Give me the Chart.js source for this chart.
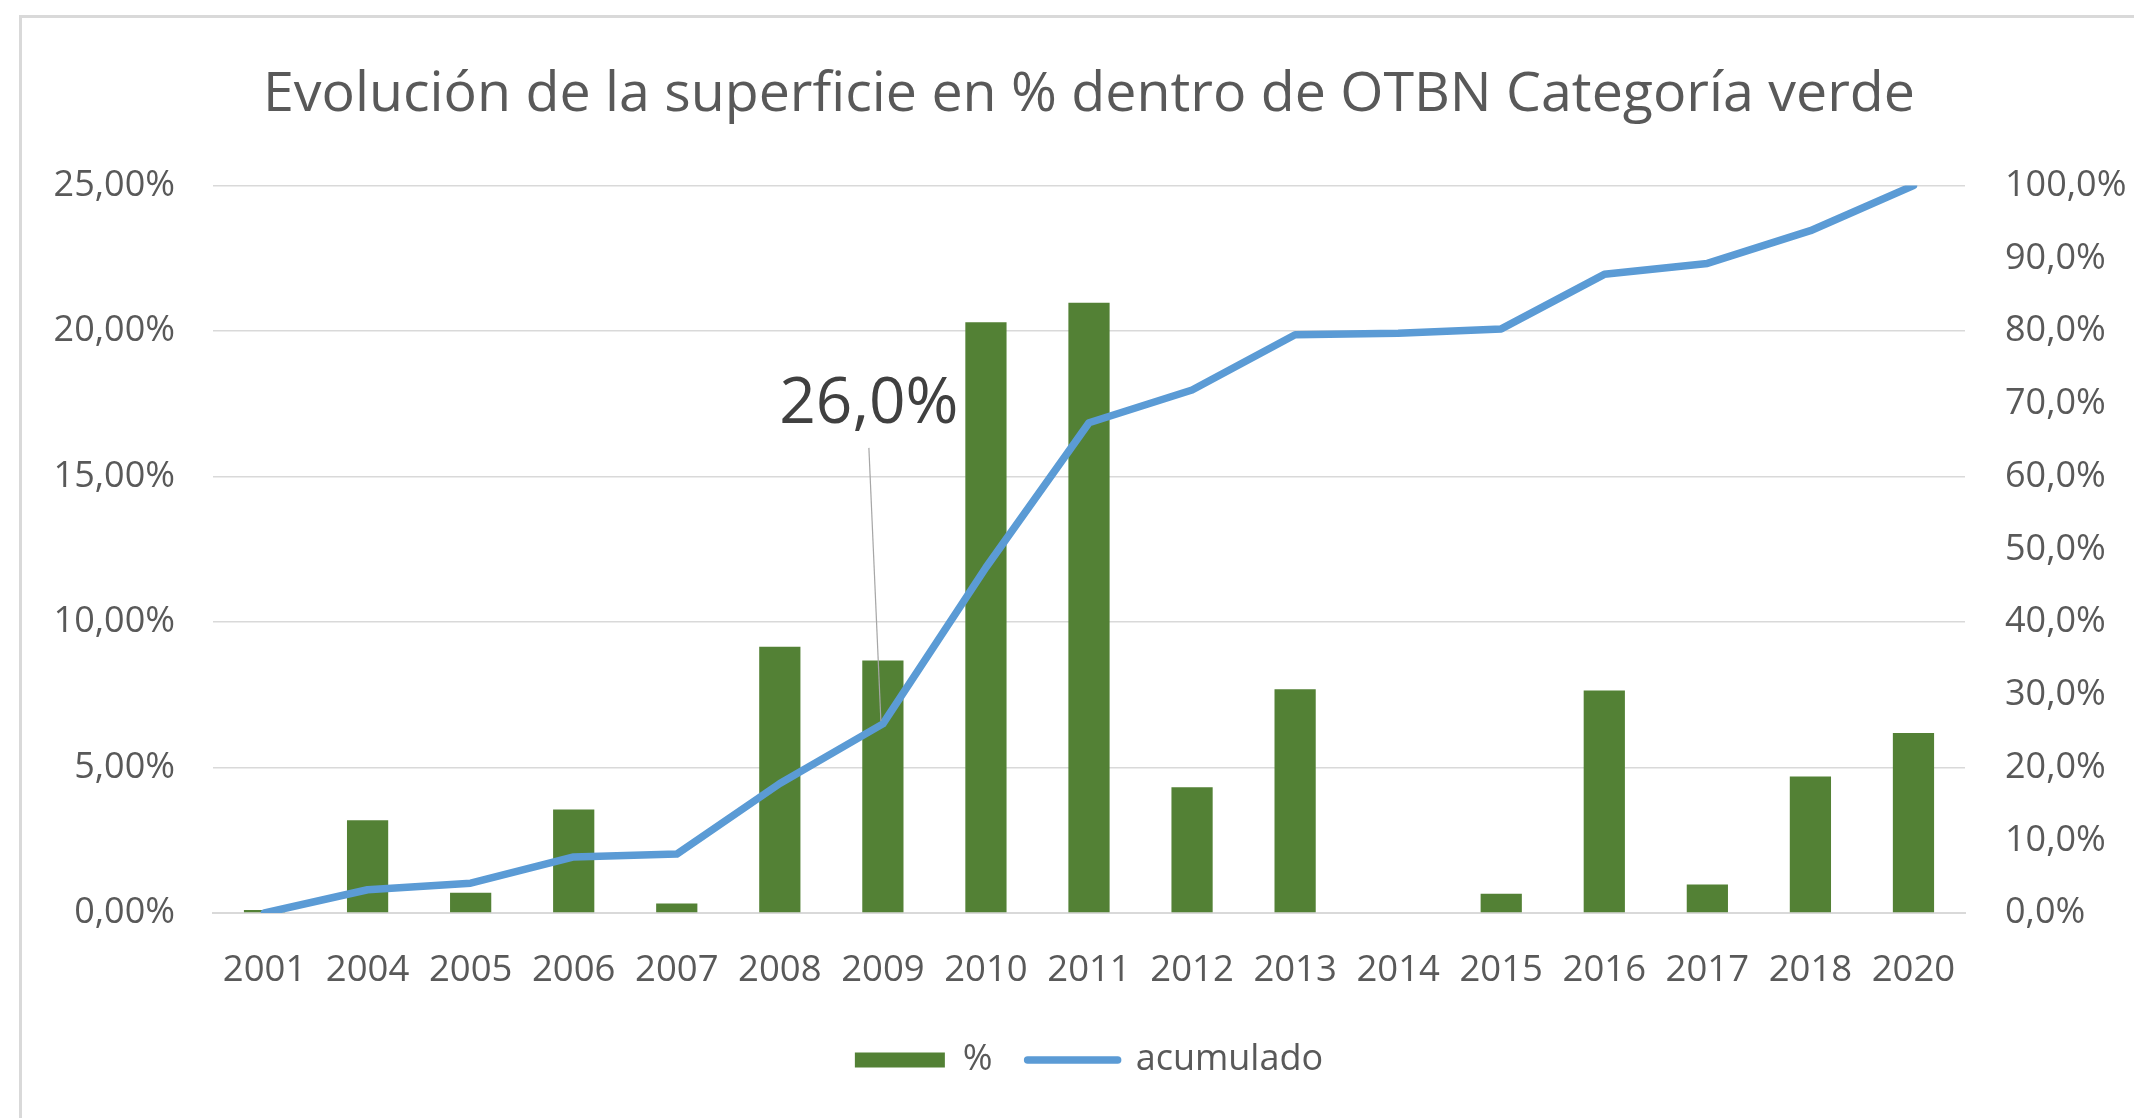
<!DOCTYPE html>
<html>
<head>
<meta charset="utf-8">
<script src="https://cdn.jsdelivr.net/npm/chart.js@4/dist/chart.umd.min.js"></script>
<style>
  html, body { margin: 0; padding: 0; background: #fff; }
  #frame {
    position: absolute; left: 19px; top: 15px; width: 2200px; height: 1200px;
    border-left: 3px solid #d9d9d9; border-top: 3px solid #d9d9d9;
  }
  #wrap { position: absolute; left: 0; top: 0; width: 2134px; height: 1118px; }
</style>
</head>
<body>
<div id="frame"></div>
<div id="wrap"><canvas id="otbnChart" width="2134" height="1118"></canvas></div>
<script>
const years = ['2001', '2004', '2005', '2006', '2007', '2008', '2009', '2010', '2011',
  '2012', '2013', '2014', '2015', '2016', '2017', '2018', '2020'];

// % de superficie por año (eje izquierdo)
const pctValues = [0.1, 3.19, 0.7, 3.56, 0.33, 9.15, 8.68, 20.3, 20.97,
  4.32, 7.69, 0, 0.66, 7.65, 0.98, 4.69, 6.19];

// acumulado (eje derecho)
const cumValues = [0, 3.2, 4.1, 7.7, 8.1, 17.8, 26.0, 47.5, 67.4,
  71.9, 79.5, 79.7, 80.3, 87.8, 89.3, 93.8, 100];

const labelIndex = 6; // etiqueta de datos sobre 2009

const FONT = "'Open Sans', 'Noto Sans', sans-serif";
const TEXT = '#595959';

const fmtComma = (v, d) => v.toFixed(d).replace('.', ',') + '%';

const annotationPlugin = {
  id: 'pointLabel',
  afterDatasetsDraw(chart) {
    const meta = chart.getDatasetMeta(1);
    const pt = meta.data[labelIndex];
    if (!pt) return;
    const ctx = chart.ctx;
    ctx.save();
    ctx.strokeStyle = '#a6a6a6';
    ctx.lineWidth = 1.2;
    ctx.beginPath();
    ctx.moveTo(pt.x - 14, pt.y - 276);
    ctx.lineTo(pt.x - 2, pt.y - 3);
    ctx.stroke();
    ctx.fillStyle = '#404040';
    ctx.font = `64px ${FONT}`;
    ctx.textAlign = 'center';
    ctx.textBaseline = 'alphabetic';
    ctx.fillText(fmtComma(cumValues[labelIndex], 1), pt.x - 14, pt.y - 301);
    ctx.restore();
  }
};

const ctx = document.getElementById('otbnChart').getContext('2d');
new Chart(ctx, {
  type: 'bar',
  data: {
    labels: years,
    datasets: [{
      type: 'bar',
      label: '%',
      data: pctValues,
      backgroundColor: '#538135',
      borderWidth: 0,
      barPercentage: 0.4,
      categoryPercentage: 1.0,
      yAxisID: 'y',
      order: 1
    }, {
      type: 'line',
      label: 'acumulado',
      data: cumValues,
      borderColor: '#5b9bd5',
      backgroundColor: '#5b9bd5',
      borderWidth: 7.5,
      borderCapStyle: 'round',
      borderJoinStyle: 'round',
      pointRadius: 0,
      pointStyle: 'line',
      tension: 0,
      yAxisID: 'y1',
      order: 0
    }]
  },
  options: {
    responsive: false,
    animation: false,
    layout: { padding: { top: 0, bottom: 30, left: 0, right: 0 } },
    plugins: {
      title: {
        display: true,
        text: 'Evolución de la superficie en % dentro de OTBN Categoría verde',
        color: TEXT,
        fullSize: false,
        font: { family: FONT, size: 55.5, weight: 'normal', lineHeight: 1.2 },
        padding: { top: 62, bottom: 57 }
      },
      legend: {
        position: 'bottom',
        fullSize: false,
        labels: {
          color: TEXT,
          font: { family: FONT, size: 36 },
          usePointStyle: true,
          pointStyleWidth: 90,
          boxHeight: 15,
          padding: 35,
          sort: (a, b) => a.datasetIndex - b.datasetIndex,
          generateLabels(chart) {
            return chart.data.datasets.map((ds, i) => ({
              text: ds.label,
              fillStyle: ds.backgroundColor,
              strokeStyle: ds.borderColor || ds.backgroundColor,
              lineWidth: ds.type === 'line' ? ds.borderWidth : 0,
              lineCap: 'round',
              pointStyle: ds.type === 'line' ? 'line' : 'rect',
              fontColor: TEXT,
              datasetIndex: i
            }));
          }
        }
      },
      tooltip: { enabled: false }
    },
    scales: {
      x: {
        grid: { display: false },
        border: { display: true, color: '#d9d9d9', width: 2 },
        ticks: {
          color: TEXT,
          font: { family: FONT, size: 36.5 },
          padding: 28,
          maxRotation: 0,
          autoSkip: false
        },
        afterFit(scale) { scale.height = 94; }
      },
      y: {
        position: 'left',
        min: 0,
        max: 25,
        grid: { color: '#d9d9d9', lineWidth: 1.5, drawTicks: false },
        border: { display: false },
        ticks: {
          stepSize: 5,
          color: TEXT,
          font: { family: FONT, size: 36 },
          padding: 38,
          callback: v => fmtComma(v, 2)
        },
        afterFit(scale) { scale.width = 213; }
      },
      y1: {
        position: 'right',
        min: 0,
        max: 100,
        grid: { display: false, drawTicks: false },
        border: { display: false },
        ticks: {
          stepSize: 10,
          color: TEXT,
          font: { family: FONT, size: 36 },
          padding: 40,
          callback: v => fmtComma(v, 1)
        },
        afterFit(scale) { scale.width = 169; }
      }
    }
  },
  plugins: [annotationPlugin]
});
</script>
</body>
</html>
